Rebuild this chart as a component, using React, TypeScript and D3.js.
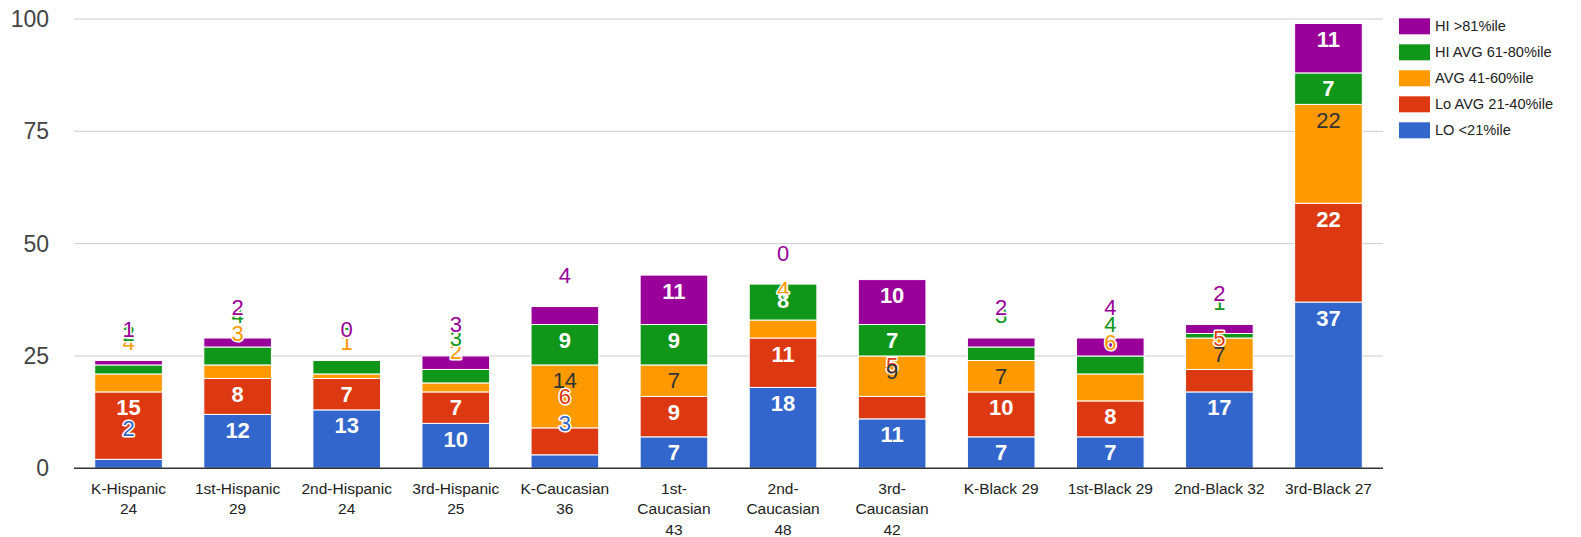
import React from "react";
import * as d3 from "d3";

const categories = [
  "K-Hispanic 24", "1st-Hispanic 29", "2nd-Hispanic 24", "3rd-Hispanic 25",
  "K-Caucasian 36", "1st-Caucasian 43", "2nd-Caucasian 48", "3rd-Caucasian 42",
  "K-Black 29", "1st-Black 29", "2nd-Black 32", "3rd-Black 27",
];

// stacked bottom -> top
const seriesNames = ["LO <21%ile", "Lo AVG 21-40%ile", "AVG 41-60%ile", "HI AVG 61-80%ile", "HI >81%ile"];
const seriesColors = ["#3366cc", "#dc3912", "#ff9900", "#109618", "#990099"];

const lo = [2, 12, 13, 10, 3, 7, 18, 11, 7, 7, 17, 37];
const loAvg = [15, 8, 7, 7, 6, 9, 11, 5, 10, 8, 5, 22];
const avg = [4, 3, 1, 2, 14, 7, 4, 9, 7, 6, 7, 22];
const hiAvg = [2, 4, 3, 3, 9, 9, 8, 7, 3, 4, 1, 7];
const hi = [1, 2, 0, 3, 4, 11, 0, 10, 2, 4, 2, 11];

const yTicks = [0, 25, 50, 75, 100];

const FONT = "'Liberation Sans', Arial, sans-serif";
const width = 1581;
const height = 537;

// canvas text measure for wrapping the category labels
let ctx: CanvasRenderingContext2D | null = null;
function textWidth(s: string, size: number) {
  if (!ctx) ctx = document.createElement("canvas").getContext("2d");
  if (!ctx) return s.length * size * 0.55;
  ctx.font = `${size}px ${FONT}`;
  return ctx.measureText(s).width;
}

function wrap(label: string, maxW: number, size: number) {
  const tokens = label.match(/[^\s-]+-?\s*|-/g) || [label];
  const lines: string[] = [];
  let cur = "";
  tokens.forEach((t) => {
    const next = cur + t;
    if (cur && textWidth(next.trim(), size) > maxW) {
      lines.push(cur.trim());
      cur = t;
    } else cur = next;
  });
  if (cur) lines.push(cur.trim());
  return lines;
}

export default function App() {
  const values = [lo, loAvg, avg, hiAvg, hi];
  const rows = categories.map((c, i) => {
    const r: any = { cat: c };
    seriesNames.forEach((s, k) => (r[s] = values[k][i]));
    return r;
  });
  const stacked = d3.stack().keys(seriesNames)(rows);

  const x = d3.scaleBand().domain(categories).range([74, 1383]).paddingInner(0.38).paddingOuter(0.19);
  const y = d3.scaleLinear().domain([0, 100]).range([468.3, 19]);

  const labelSize = 22;
  const xLabelSize = 15.5;

  return (
    <svg width={width} height={height} style={{ position: "absolute", left: 0, top: 0, background: "#fff" }}>
      {/* grid */}
      {yTicks.map((t) => (
        <g key={t}>
          {t > 0 && <line x1={74} x2={1383} y1={y(t)} y2={y(t)} stroke="#cccccc" strokeWidth={1} />}
          <text x={49} y={y(t)} textAnchor="end" dominantBaseline="central" fontFamily={FONT} fontSize={23} fill="#444">
            {t}
          </text>
        </g>
      ))}

      {/* bars */}
      {stacked.map((layer, k) => (
        <g key={layer.key} fill={seriesColors[k]}>
          {layer.map((d, i) => (
            <rect
              key={i}
              x={x(categories[i])}
              width={x.bandwidth()}
              y={y(d[1])}
              height={Math.max(0, y(d[0]) - y(d[1]))}
              stroke="#fff"
              strokeWidth={1}
            />
          ))}
        </g>
      ))}

      <line x1={74} x2={1383} y1={y(0)} y2={y(0)} stroke="#333" strokeWidth={1.5} />

      {/* value labels */}
      {stacked.map((layer, k) => (
        <g key={"l" + layer.key}>
          {layer.map((d, i) => {
            const top = y(d[1]);
            const h = y(d[0]) - y(d[1]);
            const v = d[1] - d[0];
            const cx = (x(categories[i]) || 0) + x.bandwidth() / 2;
            if (h >= 29) {
              return (
                <text key={i} x={cx} y={top + 16} textAnchor="middle" dominantBaseline="central"
                  fontFamily={FONT} fontSize={labelSize} fontWeight={k === 2 ? "normal" : "bold"}
                  fill={k === 2 ? "#333" : "#fff"}>
                  {v}
                </text>
              );
            }
            return (
              <text key={i} x={cx} y={top - 31} textAnchor="middle" dominantBaseline="central"
                fontFamily={FONT} fontSize={labelSize} fill={seriesColors[k]}
                stroke="#fff" strokeWidth={3} paintOrder="stroke" strokeLinejoin="round">
                {v}
              </text>
            );
          })}
        </g>
      ))}

      {/* x labels */}
      {categories.map((c) => {
        const lines = wrap(c, 92, xLabelSize);
        const cx = (x(c) || 0) + x.bandwidth() / 2;
        return (
          <text key={c} x={cx} textAnchor="middle" fontFamily={FONT} fontSize={xLabelSize} fill="#222">
            {lines.map((l, j) => (
              <tspan key={j} x={cx} y={493.5 + j * 20.8}>{l}</tspan>
            ))}
          </text>
        );
      })}

      {/* legend, top series first */}
      {seriesNames.slice().reverse().map((s, j) => {
        const k = seriesNames.length - 1 - j;
        const ly = 18.3 + j * 26;
        return (
          <g key={s}>
            <rect x={1399} y={ly} width={31} height={16} fill={seriesColors[k]} />
            <text x={1435} y={ly + 8} dominantBaseline="central" fontFamily={FONT} fontSize={14.6} fill="#222">
              {s}
            </text>
          </g>
        );
      })}
    </svg>
  );
}
